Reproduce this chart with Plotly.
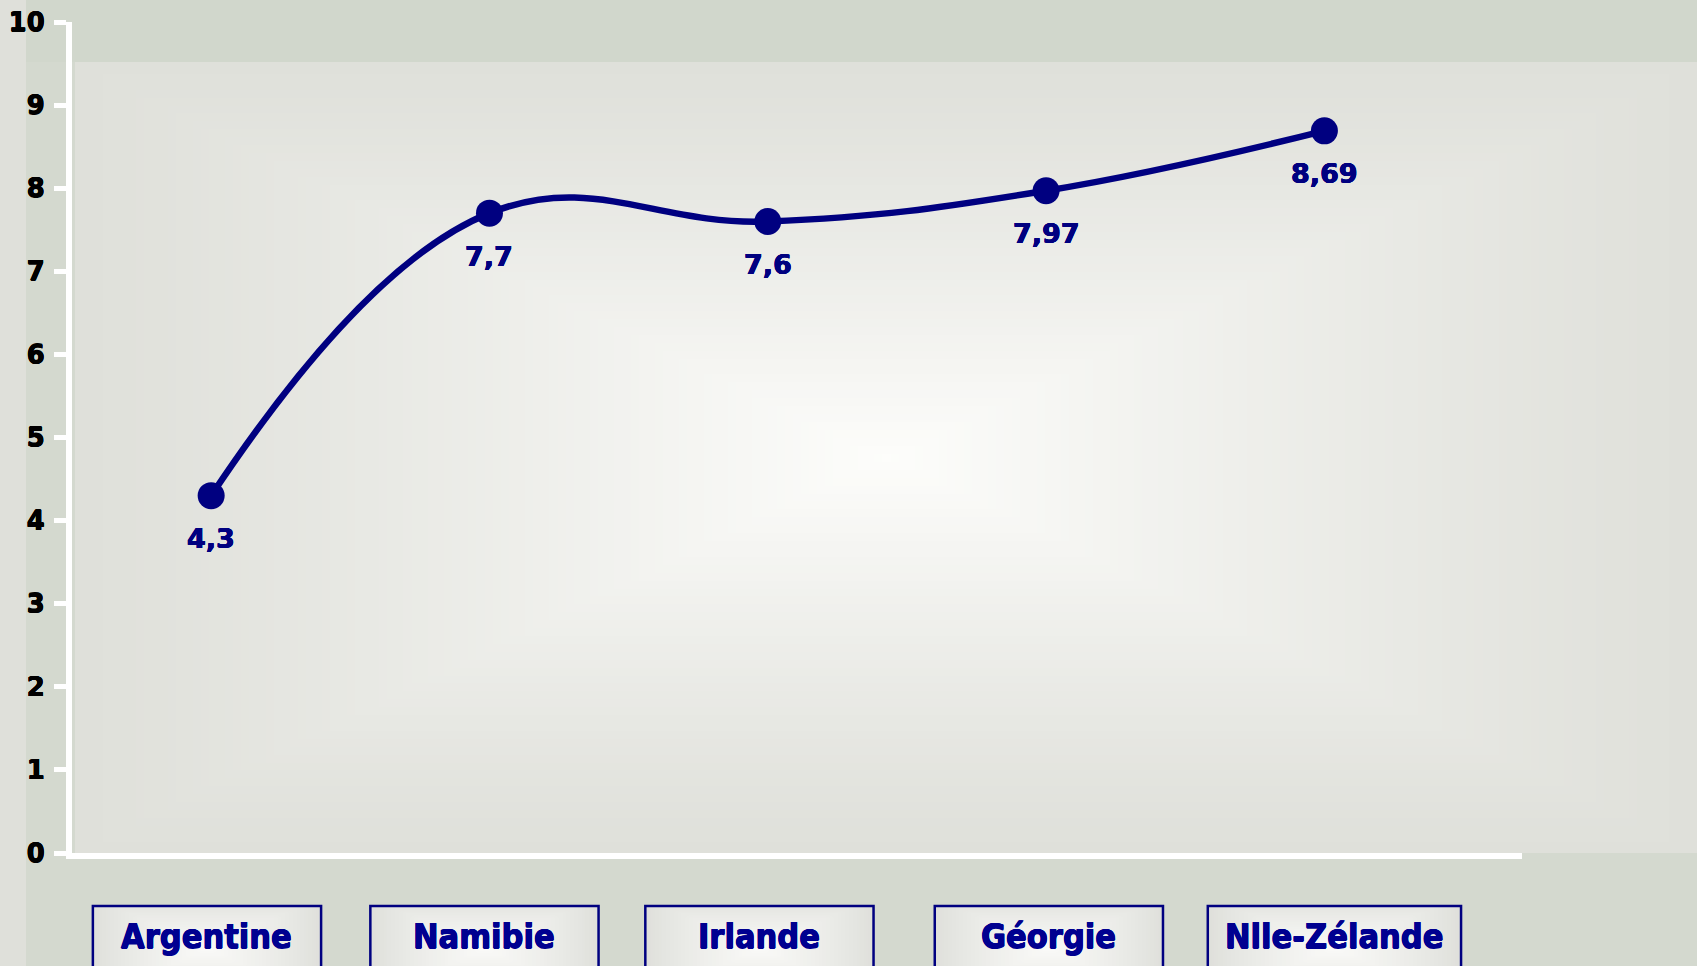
import base64, struct, zlib
import numpy as np
import plotly.graph_objects as go

# ---- data ----
countries = ["Argentine", "Namibie", "Irlande", "Géorgie", "Nlle-Zélande"]
scores = [4.3, 7.7, 7.6, 7.97, 8.69]
value_labels = ["4,3", "7,7", "7,6", "7,97", "8,69"]
y_ticks = [0, 1, 2, 3, 4, 5, 6, 7, 8, 9, 10]

# ---- styling (label boxes under the axis) ----
box_widths = [0.82, 0.82, 0.82, 0.82, 0.91]
box_shift = [-0.015, -0.018, -0.03, 0.01, 0.036]

NAVY = "#000080"
W, H = 1697, 966
L, R, T, B = 72, 1522, 22, 853  # plot area in pixels
PW, PH = R - L, B - T


def heavy(color, d=0.5):
    # small text-shadow to mimic a heavier bold face
    return (f"{d}px 0 0 {color}, -{d}px 0 0 {color}, 0 {d}px 0 {color}, 0 -{d}px 0 {color}")


# ---- gradient panel image (decoration only) ----
def make_png(arr):
    h, w, _ = arr.shape
    raw = b"".join(b"\x00" + arr[i].tobytes() for i in range(h))

    def chunk(tag, data):
        c = struct.pack(">I", len(data)) + tag + data
        return c + struct.pack(">I", zlib.crc32(tag + data) & 0xFFFFFFFF)

    ihdr = struct.pack(">IIBBBBB", w, h, 8, 2, 0, 0, 0)
    return (b"\x89PNG\r\n\x1a\n" + chunk(b"IHDR", ihdr)
            + chunk(b"IDAT", zlib.compress(raw, 9)) + chunk(b"IEND", b""))


gw, gh = 200, 100
uu, vv = np.meshgrid((np.arange(gw) + 0.5) / gw, (np.arange(gh) + 0.5) / gh)
cx, cy = 0.50, 0.50
t = np.maximum(np.abs(uu - cx) / cx, np.abs(vv - cy) / (1 - cy))
t = np.clip(t, 0, 1)
k = (1 - t) ** 1.15
edge = np.array([223, 224, 218], float)
centre = np.array([253, 253, 251], float)
img = (edge[None, None, :] + (centre - edge)[None, None, :] * k[:, :, None]).round().astype(np.uint8)
panel_uri = "data:image/png;base64," + base64.b64encode(make_png(img)).decode()

# box fill: soft light gradient
bw_, bh_ = 60, 20
bu, bv = np.meshgrid((np.arange(bw_) + 0.5) / bw_, (np.arange(bh_) + 0.5) / bh_)
bt = np.clip(np.maximum(np.abs(bu - 0.5) / 0.5, np.abs(bv - 0.45) / 0.55), 0, 1)
bk = (1 - bt) ** 0.8
bedge = np.array([222, 223, 218], float)
bcent = np.array([250, 250, 248], float)
bimg = (bedge[None, None, :] + (bcent - bedge)[None, None, :] * bk[:, :, None]).round().astype(np.uint8)
box_uri = "data:image/png;base64," + base64.b64encode(make_png(bimg)).decode()

px = lambda x: (x - L) / PW
py = lambda y: (B - y) / PH

fig = go.Figure()
fig.add_trace(go.Scatter(
    x=countries, y=scores, mode="lines+markers",
    line=dict(color=NAVY, width=6.5, shape="spline", smoothing=1.2),
    marker=dict(color=NAVY, size=27),
    cliponaxis=False, hoverinfo="x+y",
))

annotations = []
for c, v, lab in zip(countries, scores, value_labels):
    annotations.append(dict(
        x=c, y=v, xref="x", yref="y", text=lab, showarrow=False,
        yshift=-43, font=dict(family="Verdana, DejaVu Sans", size=27, color=NAVY, weight="bold",
                              shadow=heavy(NAVY, 0.4)),
    ))

shapes = [
    # left light strip of background
    dict(type="rect", xref="paper", yref="paper", x0=px(0), x1=px(26), y0=py(966), y1=py(0),
         fillcolor="#dfe0da", line=dict(width=0), layer="below"),
    # top band
    dict(type="rect", xref="paper", yref="paper", x0=px(26), x1=px(W), y0=py(62), y1=py(0),
         fillcolor="#d1d7cc", line=dict(width=0), layer="below"),
]
images = [dict(source=panel_uri, xref="paper", yref="paper",
               x=px(75), y=py(62), sizex=px(W) - px(75), sizey=py(62) - py(853),
               xanchor="left", yanchor="top", sizing="stretch", layer="below")]
for i, (c, bw, bs) in enumerate(zip(countries, box_widths, box_shift)):
    shapes.append(dict(
        type="rect", xref="x", yref="paper", x0=i + bs - bw / 2, x1=i + bs + bw / 2,
        y0=py(906), y1=py(1000), fillcolor="rgba(0,0,0,0)",
        line=dict(color="#000080", width=2.5), layer="above",
    ))
    images.append(dict(source=box_uri, xref="x", yref="paper", x=i + bs - bw / 2, y=py(906),
                       sizex=bw, sizey=py(906) - py(1000), xanchor="left", yanchor="top",
                       sizing="stretch", layer="above"))
    annotations.append(dict(
        x=i + bs, xref="x", y=py(936), yref="paper", yanchor="middle", text=c, showarrow=False,
        font=dict(family="DejaVu Sans Condensed, Liberation Sans Narrow, DejaVu Sans",
                  size=34, color="#000090", weight="bold", shadow=heavy("#000090", 0.5)),
    ))

fig.update_layout(
    width=W, height=H, autosize=False,
    margin=dict(l=L, r=W - R, t=T, b=H - B, pad=0, autoexpand=False),
    paper_bgcolor="#d4d9cf", plot_bgcolor="rgba(0,0,0,0)",
    showlegend=False,
    shapes=shapes, annotations=annotations, images=images,
    xaxis=dict(type="category", range=[-0.5, 4.71], showticklabels=False, ticks="",
               automargin=False,
               showgrid=False, zeroline=False, showline=True, linecolor="white", linewidth=6),
    yaxis=dict(range=[0, 10], tickvals=y_ticks, ticks="outside", ticklen=12, tickwidth=5,
               automargin=False,
               tickcolor="white", showgrid=False, zeroline=False, showline=True,
               linecolor="white", linewidth=6, ticklabelstandoff=4,
               tickfont=dict(family="Verdana, DejaVu Sans", size=26, color="black", weight="bold",
                             shadow=heavy("black", 0.4))),
)

fig.write_html("out.html")
